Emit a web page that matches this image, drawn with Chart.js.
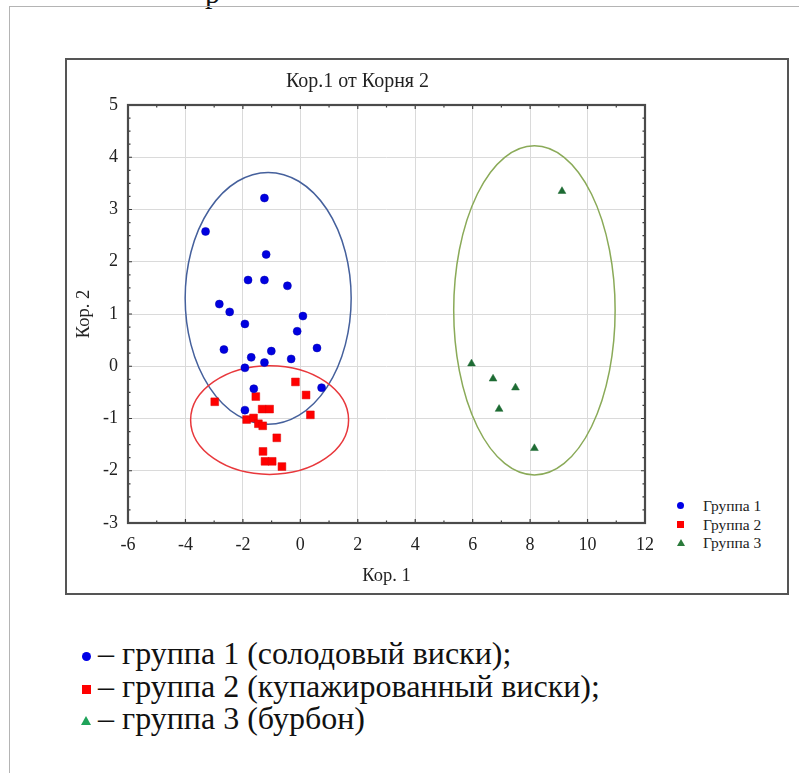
<!DOCTYPE html>
<html>
<head>
<meta charset="utf-8">
<script src="https://cdn.jsdelivr.net/npm/chart.js@4.4.1/dist/chart.umd.min.js"></script>
<style>
  html, body { margin:0; padding:0; background:#fff; }
  body { width:799px; height:773px; position:relative; overflow:hidden; font-family:'Liberation Serif','Times New Roman',serif; }
  #outer { position:absolute; left:9px; top:6px; width:800px; height:800px; border-left:1.5px solid #b4b4b4; border-top:1.5px solid #b4b4b4; }
  #frame { position:absolute; left:65px; top:58px; width:720px; height:533px; border:2px solid #555; }
  #wrap { position:absolute; left:65px; top:58px; width:600px; height:536px; }
  .leg { position:absolute; left:672px; font-size:15.5px; color:#222; line-height:18px; white-space:nowrap; }
  .leg span.m { display:inline-block; width:31px; position:relative; height:10px; }
  .notes { position:absolute; left:78px; font-size:32px; color:#111; white-space:nowrap; line-height:34px; }
  .mk { display:inline-block; position:relative; width:20px; height:16px; }
  .frag { position:absolute; left:205px; top:-24px; font-size:30px; color:#111; }
</style>
</head>
<body>
<div class="frag">р</div>
<div id="outer"></div>
<div id="frame"></div>
<div id="wrap"><canvas id="c" width="600" height="536"></canvas></div>

<div class="leg" style="top:497px"><span class="m"><span style="position:absolute;left:5px;top:1px;width:7px;height:7px;border-radius:50%;background:#0000e6"></span></span>Группа 1</div>
<div class="leg" style="top:516px"><span class="m"><span style="position:absolute;left:5px;top:1px;width:7px;height:7px;background:#ff0000"></span></span>Группа 2</div>
<div class="leg" style="top:534px"><span class="m"><span style="position:absolute;left:5px;top:1px;width:0;height:0;border-left:4px solid transparent;border-right:4px solid transparent;border-bottom:7px solid #2a7a3a"></span></span>Группа 3</div>

<div class="notes" style="top:636px"><span class="mk"><span style="position:absolute;left:4px;top:4px;width:9px;height:9px;border-radius:50%;background:#0000e6"></span></span>– группа 1 (солодовый виски);</div>
<div class="notes" style="top:669px"><span class="mk"><span style="position:absolute;left:4px;top:4px;width:9px;height:9px;background:#ff0000"></span></span>– группа 2 (купажированный виски);</div>
<div class="notes" style="top:701px"><span class="mk"><span style="position:absolute;left:3px;top:3px;width:0;height:0;border-left:5px solid transparent;border-right:5px solid transparent;border-bottom:9px solid #1fa35a"></span></span>– группа 3 (бурбон)</div>

<script>
// ---- data ----
const group1X = [-1.25,-3.30,-1.19,-1.82,-1.25,-0.45,-2.82,-2.46,-1.93,0.09,-0.11,-2.66,-1.71,-1.01,-0.32,0.58,-1.25,-1.93,-1.62,0.74,-1.93];
const group1Y = [3.22,2.58,2.14,1.65,1.65,1.54,1.19,1.04,0.81,0.96,0.67,0.32,0.17,0.29,0.14,0.35,0.07,-0.03,-0.43,-0.41,-0.84];
const group2X = [-2.98,-1.55,-0.17,0.20,-1.33,-1.07,0.35,-1.87,-1.63,-1.46,-1.31,-0.82,-1.30,-1.23,-0.98,-0.64];
const group2Y = [-0.68,-0.58,-0.30,-0.55,-0.82,-0.82,-0.93,-1.02,-0.99,-1.10,-1.14,-1.37,-1.63,-1.82,-1.82,-1.92];
const group3X = [9.11,5.96,6.71,7.49,6.92,8.15];
const group3Y = [3.35,0.05,-0.24,-0.41,-0.82,-1.57];
const seriesNames = ['Группа 1','Группа 2','Группа 3'];
// confidence ellipses (centre, semi-axes) per group
const ellipseCx = [-1.12,-1.07,8.15];
const ellipseCy = [1.30,-1.03,1.07];
const ellipseRx = [2.89,2.75,2.81];
const ellipseRy = [2.41,1.04,3.15];
const ellipseColors = ['#45609c','#e8383c','#8aaa58'];
const xTicks = [-6,-4,-2,0,2,4,6,8,10,12];
const yTicks = [-3,-2,-1,0,1,2,3,4,5];

const pts = (xs, ys) => xs.map((x,i)=>({x:x, y:ys[i]}));
const serif = "'Liberation Serif','Times New Roman',serif";

const ellipsePlugin = {
  id:'ellipses',
  beforeDatasetsDraw(chart){
    const {ctx, scales:{x,y}, chartArea:a} = chart;
    ctx.save();
    ctx.beginPath(); ctx.rect(a.left,a.top,a.right-a.left,a.bottom-a.top); ctx.clip();
    ellipseCx.forEach((cx,i)=>{
      const px = x.getPixelForValue(cx), py = y.getPixelForValue(ellipseCy[i]);
      const rx = Math.abs(x.getPixelForValue(cx+ellipseRx[i]) - px);
      const ry = Math.abs(y.getPixelForValue(ellipseCy[i]+ellipseRy[i]) - py);
      ctx.beginPath(); ctx.ellipse(px,py,rx,ry,0,0,Math.PI*2);
      ctx.strokeStyle = ellipseColors[i]; ctx.lineWidth = 1.5; ctx.stroke();
    });
    ctx.restore();
  }
};
const boxPlugin = {
  id:'box',
  afterDraw(chart){
    const {ctx, scales:{x,y}, chartArea:a} = chart;
    ctx.save();
    ctx.strokeStyle = '#3a3a3a'; ctx.lineWidth = 1.2;
    ctx.beginPath();
    for (let v = -6; v <= 12; v += 1) {
      const p = x.getPixelForValue(v); const len = (v % 2 === 0) ? 4 : 2.5;
      ctx.moveTo(p, a.bottom); ctx.lineTo(p, a.bottom - len);
      ctx.moveTo(p, a.top); ctx.lineTo(p, a.top + len);
    }
    for (let v = -3; v <= 5; v += 0.25) {
      const p = y.getPixelForValue(v); const len = (Math.abs(v - Math.round(v)) < 1e-6) ? 4 : 2.5;
      ctx.moveTo(a.left, p); ctx.lineTo(a.left + len, p);
      ctx.moveTo(a.right, p); ctx.lineTo(a.right - len, p);
    }
    ctx.stroke();
    ctx.strokeStyle = '#4a4a4a'; ctx.lineWidth = 2.2;
    ctx.strokeRect(a.left, a.top, a.right - a.left, a.bottom - a.top);
    ctx.restore();
  }
};

new Chart(document.getElementById('c'), {
  type:'scatter',
  data:{ datasets:[
    {label:seriesNames[0], data:pts(group1X,group1Y), pointStyle:'circle', pointRadius:4, backgroundColor:'#0000e0', borderColor:'#0000b0', borderWidth:0.5},
    {label:seriesNames[1], data:pts(group2X,group2Y), pointStyle:'rect', pointRadius:5.5, backgroundColor:'#ff0000', borderColor:'#dd0000', borderWidth:0.5},
    {label:seriesNames[2], data:pts(group3X,group3Y), pointStyle:'triangle', pointRadius:4.5, backgroundColor:'#1d6b33', borderColor:'#1d6b33', borderWidth:0.5}
  ]},
  options:{
    responsive:false, animation:false, events:[],
    layout:{ padding:{left:0, right:15, top:0, bottom:0} },
    plugins:{
      legend:{display:false}, tooltip:{enabled:false},
      title:{display:true, text:'Кор.1 от Корня 2', color:'#222', font:{family:serif, size:20, weight:'normal'}, padding:{top:12, bottom:11}}
    },
    scales:{
      x:{ type:'linear', min:-6, max:12,
        afterBuildTicks(s){ s.ticks = xTicks.map(v=>({value:v})); },
        afterFit(s){ s.height = 71; },
        grid:{ color:'#dadada', lineWidth:1, drawTicks:false }, border:{display:false},
        ticks:{ color:'#222', font:{family:serif, size:18}, padding:11, maxRotation:0 },
        title:{ display:true, text:'Кор. 1', color:'#222', font:{family:serif, size:18.5}, padding:{top:0, bottom:7} }
      },
      y:{ type:'linear', min:-3, max:5,
        afterBuildTicks(s){ s.ticks = yTicks.map(v=>({value:v})); },
        afterFit(s){ s.width = 63; },
        grid:{ color:'#dadada', lineWidth:1, drawTicks:false }, border:{display:false},
        ticks:{ color:'#222', font:{family:serif, size:18}, padding:10 },
        title:{ display:true, text:'Кор. 2', color:'#222', font:{family:serif, size:18.5}, padding:{top:8, bottom:0} }
      }
    }
  },
  plugins:[ellipsePlugin, boxPlugin]
});
</script>
</body>
</html>
